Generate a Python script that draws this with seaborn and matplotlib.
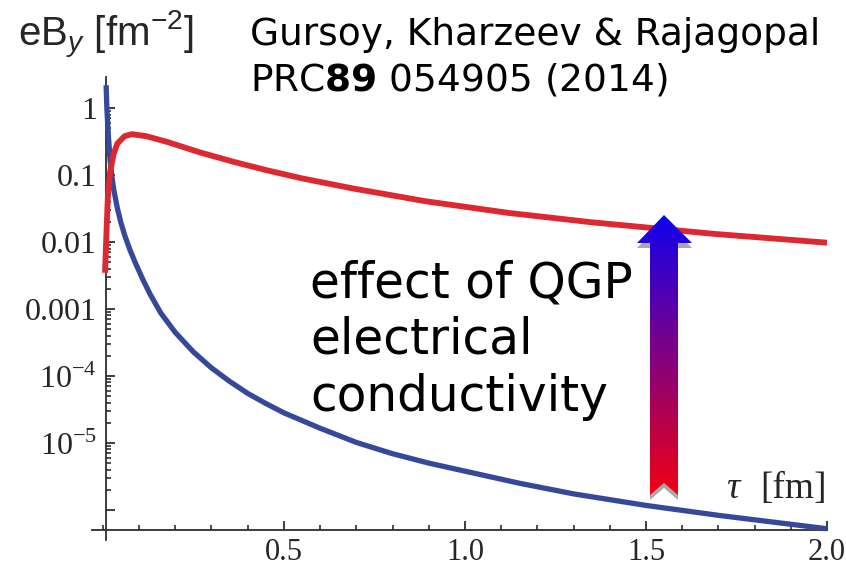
import numpy as np
import pandas as pd
import matplotlib
matplotlib.use("Agg")
import matplotlib.pyplot as plt
import seaborn as sns
from matplotlib.patches import Polygon
from matplotlib.ticker import FixedLocator, FixedFormatter, NullFormatter

# Magnetic field eB_y [fm^-2] versus proper time tau [fm]
# vacuum (no medium) field
tau_vac = [0.009, 0.011, 0.015, 0.02, 0.025, 0.03, 0.04, 0.05, 0.06, 0.075,
           0.09, 0.11, 0.13, 0.16, 0.2, 0.25, 0.3, 0.35, 0.4, 0.45,
           0.5, 0.6, 0.7, 0.8, 0.9, 1.0, 1.15, 1.3, 1.5, 1.7, 1.85, 2.0]
eb_vac = [2.188, 1.0, 0.398, 0.168, 0.0944, 0.0610, 0.0320, 0.0193, 0.01274, 7.59e-3,
          4.84e-3, 2.79e-3, 1.68e-3, 8.71e-4, 4.47e-4, 2.29e-4, 1.32e-4, 8.32e-5, 5.50e-5, 3.89e-5,
          2.82e-5, 1.66e-5, 1.02e-5, 6.92e-6, 5.01e-6, 3.80e-6, 2.51e-6, 1.74e-6, 1.17e-6, 8.32e-7,
          6.61e-7, 5.25e-7]

# field with the conducting QGP medium
tau_qgp = [0.006, 0.008, 0.010, 0.014, 0.02, 0.03, 0.04, 0.06, 0.08, 0.12,
           0.18, 0.27, 0.36, 0.455, 0.55, 0.69, 0.89, 1.12, 1.35, 1.69, 2.0]
eb_qgp = [3.47e-3, 7.1e-3, 0.0141, 0.0501, 0.112, 0.209, 0.295, 0.380, 0.407, 0.380,
          0.309, 0.216, 0.158, 0.117, 0.0891, 0.0631, 0.0407, 0.0272, 0.0197, 0.0132, 0.00977]

x_ticks = [0.5, 1.0, 1.5, 2.0]
x_tick_labels = ["0.5", "1.0", "1.5", "2.0"]
y_ticks = [1, 0.1, 0.01, 0.001, 1e-4, 1e-5, 1e-6]
y_tick_labels = ["1", "0.1", "0.01", "0.001", r"$10^{-4}$", r"$10^{-5}$", ""]

sns.set_style("ticks")
plt.rcParams.update({
    "font.family": ["DejaVu Sans"],
    "mathtext.fontset": "custom",
    "mathtext.rm": "Liberation Serif",
    "mathtext.it": "Liberation Sans:italic",
    "mathtext.sf": "Liberation Sans",
    "mathtext.bf": "DejaVu Sans:bold",
    "xtick.bottom": True,
    "ytick.left": True,
    "xtick.minor.visible": True,
    "ytick.minor.visible": True,
    "xtick.direction": "in",
    "ytick.direction": "in",
})

W, H = 846, 568
fig = plt.figure(figsize=(W / 100, H / 100), dpi=100)


def fx(px):
    return px / W


def fy(py):
    return 1 - py / H


ax = fig.add_axes([fx(92), fy(540), (827 - 92) / W, (540 - 77) / H])

vac = pd.DataFrame({"tau": tau_vac, "eB": eb_vac})
qgp = pd.DataFrame({"tau": tau_qgp, "eB": eb_qgp})
sns.lineplot(data=vac, x="tau", y="eB", ax=ax, color="#35489a", linewidth=3.8,
             solid_capstyle="butt", solid_joinstyle="round", zorder=3)
sns.lineplot(data=qgp, x="tau", y="eB", ax=ax, color="#dc2830", linewidth=4.2,
             solid_capstyle="butt", solid_joinstyle="round", zorder=4)

ax.set_yscale("log")
ax.set_xlim(-0.03, 2.0)
ax.set_ylim(10 ** -6.448, 10 ** 0.463)
ax.set_xlabel("")
ax.set_ylabel("")

for side in ("top", "right"):
    ax.spines[side].set_visible(False)
ax.spines["left"].set_position(("data", 0.01))
ax.spines["bottom"].set_position(("data", 10 ** -6.3))
for side in ("left", "bottom"):
    ax.spines[side].set_color("#2e2e2e")
    ax.spines[side].set_linewidth(1.3)

ax.xaxis.set_major_locator(FixedLocator(x_ticks))
ax.xaxis.set_major_formatter(FixedFormatter(x_tick_labels))
ax.xaxis.set_minor_locator(FixedLocator([0.0] + [k / 10 for k in range(1, 20) if k % 5 != 0]))
ax.xaxis.set_minor_formatter(NullFormatter())
ax.yaxis.set_major_locator(FixedLocator(y_ticks))
ax.yaxis.set_major_formatter(FixedFormatter(y_tick_labels))
ax.yaxis.set_minor_locator(FixedLocator([k * 10.0 ** e for e in range(-6, 0) for k in range(2, 10)]))
ax.yaxis.set_minor_formatter(NullFormatter())

ax.tick_params(which="both", direction="in", color="#2e2e2e",
               bottom=True, left=True, top=False, right=False)
ax.tick_params(which="major", length=6.5, width=1.3)
ax.tick_params(which="minor", length=3.8, width=1.2)
ax.tick_params(axis="x", pad=6)
ax.tick_params(axis="y", pad=7)
for lab in ax.get_xticklabels():
    lab.set_fontfamily("Liberation Serif")
    lab.set_fontsize(22)
for lab in ax.get_yticklabels():
    lab.set_fontfamily("Liberation Serif")
    lab.set_fontsize(23)

# axis titles
fig.text(fx(18), fy(46), r"$\mathsf{eB}_{y}\ \mathsf{[fm}^{\mathsf{-2}}\mathsf{]}$",
         fontsize=29, ha="left", va="baseline")
fig.text(fx(726), fy(498), "τ", fontsize=27, family="Liberation Serif",
         style="italic", ha="left", va="baseline")
fig.text(fx(827), fy(498), "[fm]", fontsize=27, family="Liberation Serif",
         ha="right", va="baseline")

# reference
fig.text(fx(250), fy(45), "Gursoy, Kharzeev & Rajagopal", fontsize=27,
         ha="left", va="baseline", color="black")
fig.text(fx(250), fy(91), r"PRC$\mathbf{89}$ 054905 (2014)", fontsize=27,
         ha="left", va="baseline", color="black")

# annotation
for text, base in (("effect of QGP", 297), ("electrical", 354), ("conductivity", 411)):
    fig.text(fx(310), fy(base), text, fontsize=35, ha="left", va="baseline", color="black")

# gradient arrow (blue head, red tail) with a grey drop shadow
arr = fig.add_axes([fx(630), fy(505), 70 / W, 295 / H])
arr.set_xlim(630, 700)
arr.set_ylim(505, 210)
arr.axis("off")
outline = [(664, 215), (692, 243), (678, 243), (678, 495), (664, 483),
           (650, 495), (650, 243), (637, 243)]
shadow = [(x, y + 5) for x, y in outline]
arr.add_patch(Polygon(shadow, closed=True, facecolor="#a9a9a9", edgecolor="none", zorder=1))
clip = Polygon(outline, closed=True, facecolor="none", edgecolor="none", zorder=2)
arr.add_patch(clip)
top = np.array([15, 0, 240]) / 255
bottom = np.array([242, 0, 18]) / 255
t = np.linspace(0, 1, 256)[:, None]
grad = (top[None, :] * (1 - t) + bottom[None, :] * t)[:, None, :]
im = arr.imshow(grad, extent=(637, 692, 495, 215), origin="upper", aspect="auto",
                interpolation="bilinear", zorder=3)
im.set_clip_path(clip)

fig.savefig("out.png", dpi=100)
